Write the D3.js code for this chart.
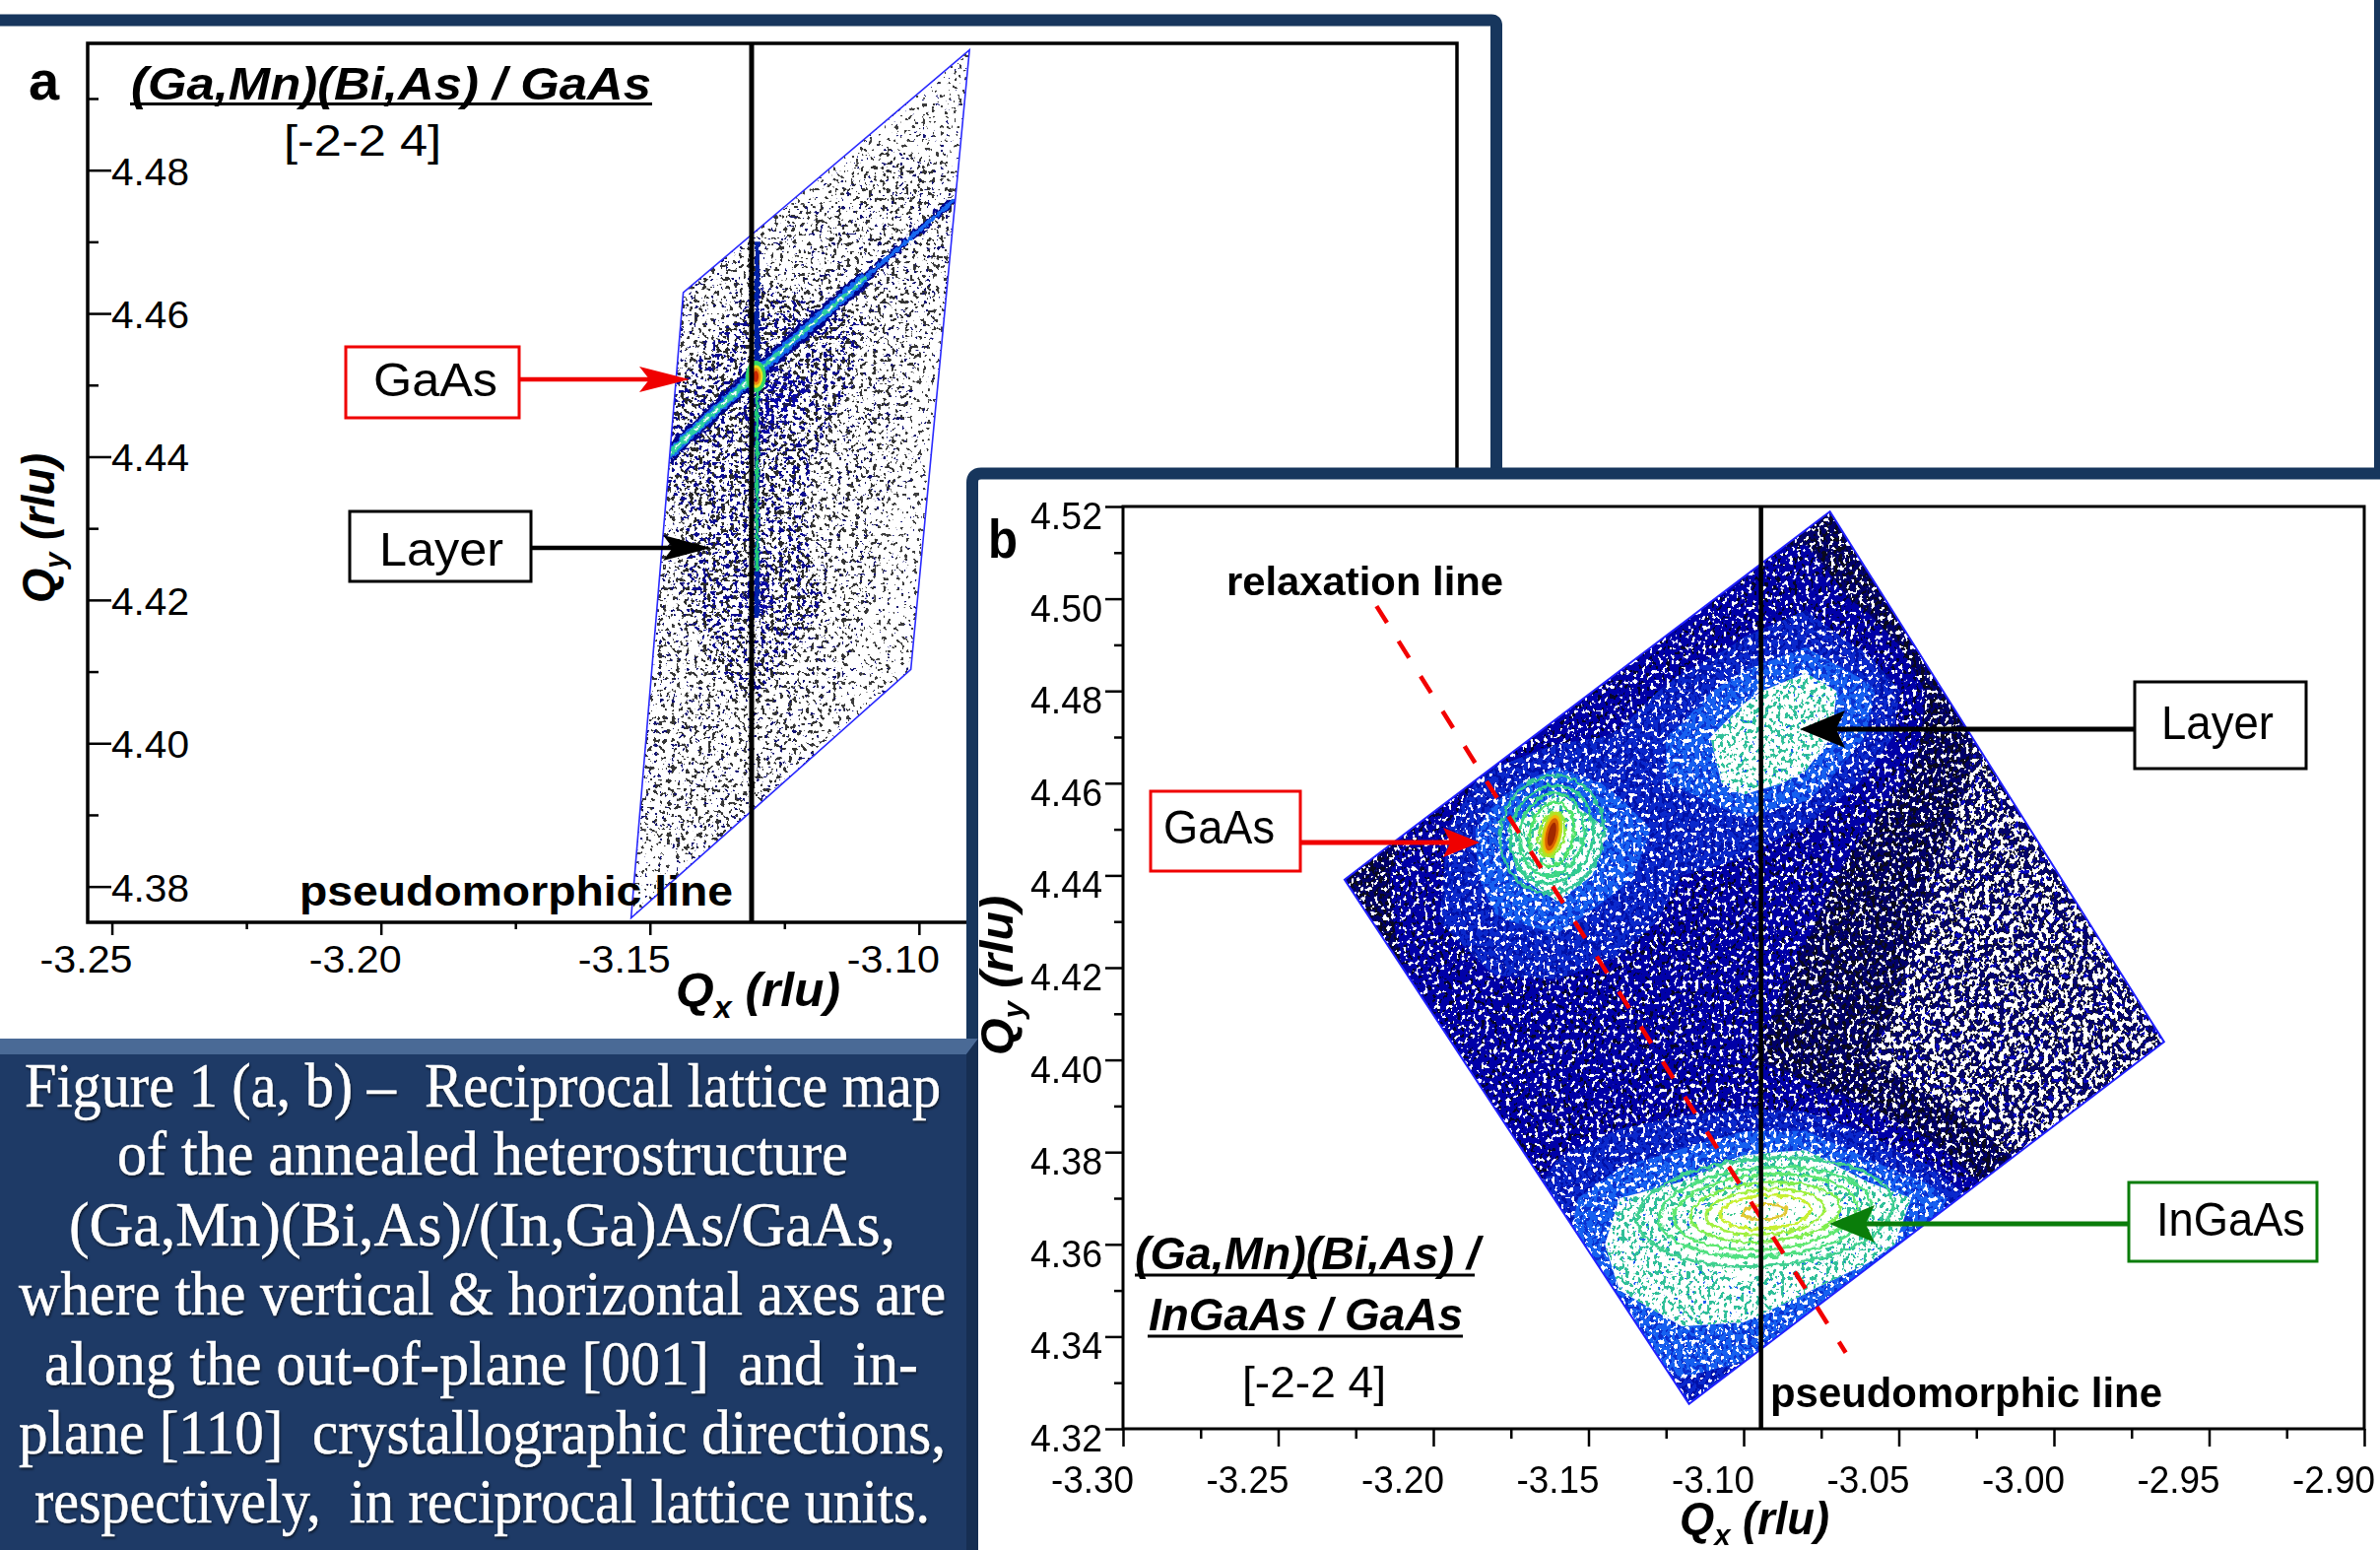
<!DOCTYPE html>
<html>
<head>
<meta charset="utf-8">
<style>
html, body { margin: 0; padding: 0; background: #fff; }
svg { display: block; }
text { font-family: "Liberation Sans", Arial, sans-serif; fill: #000; }
.axis path, .axis line { stroke: #000; }
.caption text { font-family: "Liberation Serif", serif; fill: #fff; stroke: #fff; stroke-width: .5; white-space: pre; filter: drop-shadow(1px 2px 1px rgba(0,0,0,.55)); }
</style>
</head>
<body>
<svg id="fig" width="2416" height="1573"></svg>
<script src="https://d3js.org/d3.v7.min.js"></script>
<script>
// panel a: ticks
var aXTicks = [-3.25, -3.20, -3.15, -3.10];
var aXMinor = [-3.225, -3.175, -3.125, -3.075];
var aYTicks = [4.38, 4.40, 4.42, 4.44, 4.46, 4.48];
var aYMinor = [4.39, 4.41, 4.43, 4.45, 4.47, 4.49];
// panel a: scan outline, pseudomorphic line, streaks, peak
var aOutline = [[-3.0906, 4.4968], [-3.1015, 4.4103], [-3.1535, 4.3756], [-3.1438, 4.4629]];
var aPseudoQx = -3.1311;
var aDiagStreak = [[-3.1470, 4.4400], [-3.1305, 4.4515], [-3.1100, 4.4650], [-3.0935, 4.4758]];
var aVertStreakQx = -3.1301;
var aVertStreakQy = [4.470, 4.4175];
var aPeak = [-3.1303, 4.4512];
var aPeakRx = [.0019, .0013, .0009, .0005];
var aPeakRy = [.0022, .0016, .0012, .0008];
// panel a: speck density estimated by eye on a coarse grid (0 sparse .. 3 dense)
var aGridQx = [-3.16, -3.15, -3.14, -3.13, -3.12, -3.11, -3.10, -3.09];
var aGridQy = [4.50, 4.49, 4.48, 4.47, 4.46, 4.45, 4.44, 4.43, 4.42, 4.41, 4.40, 4.39, 4.38, 4.37];
var aDensity = [
  [.5, .5, .5, .5, .5, .5, .6, .6],
  [.5, .5, .5, .5, .5, .6, .6, .6],
  [.5, .5, .5, .6, .6, .8, .8, .7],
  [.5, .6, .6, 1.0, .9, 1.0, 1.2, .7],
  [.6, .7, 1.0, 1.8, 1.6, 1.5, .9, .6],
  [.8, 1.2, 1.9, 2.8, 2.4, 1.2, .7, .5],
  [1.0, 1.5, 2.0, 2.4, 1.5, 1.0, .6, .5],
  [1.0, 1.3, 1.6, 2.2, 1.4, .8, .6, .5],
  [1.0, 1.2, 1.7, 2.7, 1.7, .8, .5, .4],
  [1.0, 1.2, 1.4, 1.8, 1.0, .6, .5, .4],
  [.9, 1.0, 1.1, 1.1, .8, .5, .5, .4],
  [.7, .8, .9, .9, .6, .5, .4, .4],
  [.6, .6, .7, .7, .5, .4, .4, .4],
  [.5, .5, .5, .5, .4, .4, .4, .4]
];

// panel b: ticks
var bXTicks = [-3.30, -3.25, -3.20, -3.15, -3.10, -3.05, -3.00, -2.95, -2.90];
var bXMinor = [-3.275, -3.225, -3.175, -3.125, -3.075, -3.025, -2.975, -2.925];
var bYTicks = [4.32, 4.34, 4.36, 4.38, 4.40, 4.42, 4.44, 4.46, 4.48, 4.50, 4.52];
var bYMinor = [4.33, 4.35, 4.37, 4.39, 4.41, 4.43, 4.45, 4.47, 4.49, 4.51];
var bOutline = [[-3.0722, 4.5189], [-2.9645, 4.4039], [-3.1176, 4.3254], [-3.2286, 4.4391]];
var bPseudoQx = -3.0944;
var bRelaxLine = [[-3.2183, 4.4984], [-3.0671, 4.3365]];
// panel b: intensity level estimated by eye on a coarse grid (0 black speckle .. 6 peak)
var bGridQx = [-3.24, -3.22, -3.20, -3.18, -3.16, -3.14, -3.12, -3.10, -3.08, -3.06, -3.04, -3.02, -3.00, -2.98, -2.96];
var bGridQy = [4.52, 4.51, 4.50, 4.49, 4.48, 4.47, 4.46, 4.45, 4.44, 4.43, 4.42, 4.41, 4.40, 4.39, 4.38, 4.37, 4.36, 4.35, 4.34, 4.33, 4.32];
var bLevels = [
  [.6, .6, .6, .6, .6, .6, .8, 1.0, 1.0, .7, .3, 0, 0, 0, 0],
  [.6, .6, .6, .6, .6, .7, 1.0, 1.5, 1.6, .8, .3, 0, 0, 0, 0],
  [.6, .6, .6, .6, .8, 1.0, 1.5, 2.0, 2.2, 1.2, .4, .1, 0, 0, 0],
  [.6, .6, .6, .8, 1.0, 1.5, 2.0, 2.6, 3.4, 2.2, .8, .2, 0, 0, 0],
  [.6, .6, .7, 1.0, 1.5, 2.0, 2.8, 4.2, 5.2, 3.8, 1.3, .3, 0, 0, 0],
  [.6, .7, 1.0, 1.6, 2.2, 2.6, 3.8, 5.3, 5.3, 3.4, 1.2, .2, 0, 0, 0],
  [.6, .8, 1.5, 3.0, 4.2, 3.2, 3.6, 5.0, 4.2, 2.2, 1.0, .2, 0, 0, 0],
  [.5, 1.0, 2.0, 4.2, 5.8, 4.2, 2.8, 3.0, 2.4, 1.5, .7, .1, 0, 0, 0],
  [.5, 1.2, 2.2, 4.0, 5.4, 3.8, 2.5, 2.2, 1.8, 1.2, .5, .1, 0, 0, 0],
  [.5, 1.0, 2.4, 3.4, 3.8, 2.8, 2.3, 2.0, 1.6, 1.0, .4, .1, 0, 0, 0],
  [.5, 1.0, 2.0, 2.6, 2.6, 2.4, 2.2, 1.9, 1.4, .8, .3, 0, 0, 0, 0],
  [.5, 1.0, 1.6, 2.0, 2.2, 2.2, 2.1, 1.8, 1.2, .7, .2, 0, 0, 0, 0],
  [.5, .8, 1.4, 1.6, 2.0, 2.1, 2.0, 1.6, 1.0, .5, .2, 0, 0, 0, 0],
  [.5, .8, 1.2, 1.5, 1.8, 2.0, 2.2, 2.4, 2.2, 1.5, .6, .2, 0, 0, 0],
  [.5, .8, 1.2, 1.8, 2.4, 3.0, 3.6, 4.4, 4.6, 3.2, 1.8, .6, .2, 0, 0],
  [.5, .8, 1.2, 1.8, 3.0, 4.5, 5.0, 5.8, 5.8, 5.2, 4.2, 1.6, .4, 0, 0],
  [.5, .8, 1.2, 2.2, 3.2, 4.9, 5.6, 5.9, 5.8, 5.2, 3.6, 1.5, .4, 0, 0],
  [.5, .8, 1.2, 2.2, 3.0, 4.5, 5.2, 5.4, 4.6, 3.5, 2.6, 1.5, .4, 0, 0],
  [.5, .8, 1.2, 2.0, 2.6, 3.6, 4.3, 4.1, 3.2, 2.6, 2.0, 1.0, .4, 0, 0],
  [.5, .8, 1.2, 2.0, 2.4, 3.0, 3.4, 3.0, 2.6, 2.0, 1.5, 1.0, .4, 0, 0],
  [.5, .8, 1.2, 2.0, 2.4, 3.0, 3.4, 3.0, 2.6, 2.0, 1.5, 1.0, .4, 0, 0]
];
// panel b: contour rings, outer to inner
var gaasCentre = [-3.1618, 4.4489];
var gaasRingRx = [.0165, .0133, .0102, .0070, .0040];
var gaasRingRy = [.0128, .0107, .0090, .0070, .0049];
var gaasCoreRx = [.0032, .0026, .0020, .0012];
var gaasCoreRy = [.0050, .0043, .0036, .0026];
var ingaasCentre = [-3.0930, 4.3670];
var ingaasRingRx = [.0413, .0343, .0295, .0241, .0191, .0146, .0070];
var ingaasRingRy = [.0117, .0096, .0081, .0064, .0049, .0036, .0016];

var captionLines = [
  "Figure 1 (a, b) \u2013  Reciprocal lattice map",
  "of the annealed heterostructure",
  "(Ga,Mn)(Bi,As)/(In,Ga)As/GaAs,",
  "where the vertical & horizontal axes are",
  "along the out-of-plane [001]  and  in-",
  "plane [110]  crystallographic directions,",
  "respectively,  in reciprocal lattice units."
];

var navy = "#17365d";
var svg = d3.select("#fig");
var defs = svg.append("defs");

// speckle texture only: feTurbulence is a fixed visual grain, no value is drawn from it
function speckFilter(id, freq, seed, layers, box) {
  var f = defs.append("filter").attr("id", id)
    .attr("filterUnits", "userSpaceOnUse")
    .attr("x", box[0]).attr("y", box[1]).attr("width", box[2]).attr("height", box[3])
    .attr("color-interpolation-filters", "sRGB");
  f.append("feTurbulence").attr("type", "fractalNoise").attr("baseFrequency", freq)
    .attr("numOctaves", 2).attr("seed", seed).attr("result", "n");
  layers.forEach(function(l, i) {
    var c = d3.rgb(l.color), k = 40;
    var row = [0, 0, 0, 0, k * -l.t];
    row[l.ch] = k;
    f.append("feColorMatrix").attr("in", "n").attr("type", "matrix")
      .attr("values", [0, 0, 0, 0, c.r / 255, 0, 0, 0, 0, c.g / 255, 0, 0, 0, 0, c.b / 255].concat(row).join(" "))
      .attr("result", "m" + i);
    f.append("feComposite").attr("in", "m" + i).attr("in2", "SourceAlpha")
      .attr("operator", "in").attr("result", "c" + i);
  });
  var m = f.append("feMerge");
  m.append("feMergeNode").attr("in", "SourceGraphic");
  layers.forEach(function(l, i) { m.append("feMergeNode").attr("in", "c" + i); });
}

function roughFilter(id, freq, scale) {
  var f = defs.append("filter").attr("id", id)
    .attr("x", "-20%").attr("y", "-20%").attr("width", "140%").attr("height", "140%");
  f.append("feTurbulence").attr("type", "fractalNoise").attr("baseFrequency", freq)
    .attr("numOctaves", 2).attr("seed", 5).attr("result", "n");
  f.append("feDisplacementMap").attr("in", "SourceGraphic").attr("in2", "n")
    .attr("scale", scale).attr("xChannelSelector", "R").attr("yChannelSelector", "G");
}

function bandPath(gridQx, gridQy, x, y) {
  var dx = gridQx[1] - gridQx[0], dy = gridQy[1] - gridQy[0];
  return d3.geoPath(d3.geoTransform({
    point: function(cx, cy) {
      this.stream.point(x(gridQx[0] + (cx - .5) * dx), y(gridQy[0] + (cy - .5) * dy));
    }
  }));
}

function label(parent, str, px, py, size, width, opt) {
  opt = opt || {};
  var t = parent.append("text").attr("x", px).attr("y", py)
    .attr("font-size", size).text(str);
  if (width) t.attr("textLength", width).attr("lengthAdjust", "spacingAndGlyphs");
  if (opt.bold) t.attr("font-weight", "bold");
  if (opt.italic) t.attr("font-style", "italic");
  return t;
}

function axisTitle(parent, sub, transform, size, width) {
  var t = parent.append("text").attr("transform", transform)
    .attr("font-size", size).attr("font-weight", "bold").attr("font-style", "italic");
  t.append("tspan").text("Q");
  t.append("tspan").attr("font-size", size * .65).attr("dy", size * .24).text(sub);
  t.append("tspan").attr("dy", -size * .24).text(" (rlu)");
  if (width) t.attr("textLength", width).attr("lengthAdjust", "spacingAndGlyphs");
}

function callout(parent, box, color, str, textX, textY, textW, fontSize, tip, tail, arrowY, headLen, headH, lineW) {
  parent.append("rect").attr("x", box[0]).attr("y", box[1]).attr("width", box[2] - box[0]).attr("height", box[3] - box[1])
    .attr("fill", "#fff").attr("stroke", color).attr("stroke-width", 3);
  label(parent, str, textX, textY, fontSize, textW);
  var dir = tip > tail ? 1 : -1;
  parent.append("line").attr("x1", tail).attr("x2", tip - dir * headLen * .5).attr("y1", arrowY).attr("y2", arrowY)
    .attr("stroke", color).attr("stroke-width", lineW);
  var back = tip - dir * headLen, notch = tip - dir * headLen * .8;
  parent.append("path").attr("fill", color)
    .attr("d", "M" + tip + "," + arrowY + "L" + back + "," + (arrowY - headH) + "L" + notch + "," + arrowY + "L" + back + "," + (arrowY + headH) + "Z");
}

function ticksAxis(group, axisFn, scale, ticks, size) {
  group.call(axisFn(scale).tickValues(ticks).tickSize(size).tickFormat(function() { return ""; }));
  group.select(".domain").remove();
  group.selectAll("line").attr("stroke-width", 2.5);
  group.selectAll("text").remove();
}

/***** panel a *****/
var aLeft = 89, aRight = 1479, aTop = 44, aBottom = 936;
var ax = d3.scaleLinear().domain([-3.2545, -3.00]).range([aLeft, aRight]);
var ay = d3.scaleLinear().domain([4.375, 4.4977]).range([aBottom, aTop]);
var pa = svg.append("g");

// top and right rule of frame a
pa.append("path").attr("fill", "none").attr("stroke", navy).attr("stroke-width", 12)
  .attr("d", "M0,20.5H1514Q1519,20.5 1519,26V480");

var aPoly = aOutline.map(function(d) { return [ax(d[0]), ay(d[1])]; });
defs.append("clipPath").attr("id", "aClip").append("polygon").attr("points", aPoly.join(" "));
var aBox = [620, 30, 400, 920];
var aFreq = "0.22";
speckFilter("aS0", aFreq, 3, [{ch: 0, t: .645, color: "#3c3c3c"}, {ch: 1, t: .74, color: "#101070"}], aBox);
speckFilter("aS1", aFreq, 3, [{ch: 0, t: .605, color: "#343434"}, {ch: 1, t: .69, color: "#101070"}], aBox);
speckFilter("aS2", aFreq, 3, [{ch: 0, t: .56, color: "#2a2a2a"}, {ch: 1, t: .60, color: "#0a0a90"}], aBox);
speckFilter("aS3", aFreq, 3, [{ch: 0, t: .53, color: "#1a1a4a"}, {ch: 1, t: .53, color: "#0808a8"}], aBox);
var aMap = pa.append("g").attr("clip-path", "url(#aClip)");
aMap.append("polygon").attr("points", aPoly.join(" ")).attr("fill", "#fff").attr("filter", "url(#aS0)");
var aPath = bandPath(aGridQx, aGridQy, ax, ay);
var aBands = d3.contours().size([aGridQx.length, aGridQy.length]).thresholds([.75, 1.5, 2.4])(aDensity.flat());
aMap.selectAll("path.band").data(aBands).enter().append("path").attr("class", "band")
  .attr("d", aPath).attr("fill", "#fff")
  .attr("filter", function(d, i) { return "url(#aS" + (i + 1) + ")"; });

// the two sharp streaks of the GaAs peak
roughFilter("rough3", "0.2", 9);
roughFilter("rough2", "0.2", 5);
var aLine = d3.line().x(function(d) { return ax(d[0]); }).y(function(d) { return ay(d[1]); });
var halo = aMap.append("g").attr("filter", "url(#rough3)").attr("fill", "none");
halo.append("path").attr("d", aLine(aDiagStreak.slice(0, 3))).attr("stroke", "#000088").attr("stroke-width", 16);
halo.append("path").attr("d", aLine(aDiagStreak.slice(2))).attr("stroke", "#000088").attr("stroke-width", 8).attr("stroke-dasharray", "26 5");
var streaks = aMap.append("g").attr("filter", "url(#rough2)").attr("fill", "none");
streaks.append("path").attr("d", aLine(aDiagStreak.slice(0, 3))).attr("stroke", "#1468f0").attr("stroke-width", 10);
streaks.append("path").attr("d", aLine(aDiagStreak.slice(2))).attr("stroke", "#1468f0").attr("stroke-width", 4);
streaks.append("path").attr("d", aLine(aDiagStreak.slice(0, 2))).attr("stroke", "#2ed0a0").attr("stroke-width", 6);
streaks.append("path").attr("d", aLine(aDiagStreak.slice(1, 3))).attr("stroke", "#2ed0a0").attr("stroke-width", 4);
streaks.append("path").attr("d", aLine(aDiagStreak.slice(0, 3))).attr("stroke", "#f2fffa").attr("stroke-width", 2).attr("stroke-dasharray", "7 6");
var vSeg = aVertStreakQy.map(function(q) { return [aVertStreakQx, q]; });
streaks.append("path").attr("d", aLine(vSeg)).attr("stroke", "#0020a8").attr("stroke-width", 5);
streaks.append("path").attr("d", aLine([[aVertStreakQx, aPeak[1]], [aVertStreakQx, 4.424]])).attr("stroke", "#22c878").attr("stroke-width", 3.5);
["#30d868", "#e8e020", "#f08810", "#c82800"].forEach(function(c, i) {
  aMap.append("ellipse").attr("cx", ax(aPeak[0])).attr("cy", ay(aPeak[1]))
    .attr("rx", ax(aPeak[0] + aPeakRx[i]) - ax(aPeak[0]))
    .attr("ry", ay(aPeak[1]) - ay(aPeak[1] + aPeakRy[i])).attr("fill", c);
});
pa.append("polygon").attr("points", aPoly.join(" ")).attr("fill", "none").attr("stroke", "#2a2aff").attr("stroke-width", 1.6);

// frame and ticks of a
pa.append("path").attr("fill", "none").attr("stroke", "#000").attr("stroke-width", 3.5)
  .attr("d", "M" + aRight + "," + aBottom + "V" + aTop + "H" + aLeft + "V" + aBottom + "H1000");
ticksAxis(pa.append("g").attr("class", "axis").attr("transform", "translate(0," + aBottom + ")"), d3.axisBottom, ax, aXTicks, 13);
ticksAxis(pa.append("g").attr("class", "axis").attr("transform", "translate(0," + aBottom + ")"), d3.axisBottom, ax, aXMinor, 7);
ticksAxis(pa.append("g").attr("class", "axis").attr("transform", "translate(" + aLeft + ",0)"), d3.axisLeft, ay, aYTicks, -24);
ticksAxis(pa.append("g").attr("class", "axis").attr("transform", "translate(" + aLeft + ",0)"), d3.axisLeft, ay, aYMinor, -11);
aXTicks.forEach(function(d) {
  label(pa, d.toFixed(2), ax(d) - 73, 987, 38, 94);
});
aYTicks.forEach(function(d) {
  label(pa, d.toFixed(2), 113, ay(d) + 15, 38, 79);
});
pa.append("line").attr("x1", ax(aPseudoQx)).attr("x2", ax(aPseudoQx)).attr("y1", aTop).attr("y2", aBottom)
  .attr("stroke", "#000").attr("stroke-width", 5);

label(pa, "a", 29, 101, 56, null, {bold: true});
label(pa, "(Ga,Mn)(Bi,As) / GaAs", 133, 101, 46, 528, {bold: true, italic: true});
pa.append("line").attr("x1", 132).attr("x2", 662).attr("y1", 105.5).attr("y2", 105.5).attr("stroke", "#000").attr("stroke-width", 3);
label(pa, "[-2-2 4]", 288, 158, 44, 160);
label(pa, "pseudomorphic line", 304, 919, 42, 440, {bold: true});
axisTitle(pa, "y", "translate(55,612) rotate(-90)", 46, 152);
axisTitle(pa, "x", "translate(686,1021)", 48, 167);
callout(pa, [351, 352, 527, 424], "#f00000", "GaAs", 379, 402, 126, 48, 700, 528, 385, 51, 13, 4.5);
callout(pa, [355, 519, 539, 590], "#000", "Layer", 385, 574, 126, 48, 722, 539, 556, 49, 13, 4.5);

/***** panel b frame sits over panel a *****/
svg.append("rect").attr("x", 2410).attr("y", 0).attr("width", 6).attr("height", 480).attr("fill", navy);
svg.append("path").attr("fill", "#fff").attr("stroke", navy).attr("stroke-width", 12)
  .attr("d", "M987,1573V490Q987,480.5 996,480.5H2430V1590H987");

/***** panel b *****/
var bLeft = 1140, bRight = 2400, bTop = 514, bBottom = 1450;
var bx = d3.scaleLinear().domain([-3.30, -2.90]).range([bLeft, bRight]);
var by = d3.scaleLinear().domain([4.32, 4.52]).range([bBottom, bTop]);
var pb = svg.append("g");

var bPoly = bOutline.map(function(d) { return [bx(d[0]), by(d[1])]; });
defs.append("clipPath").attr("id", "bClip").append("polygon").attr("points", bPoly.join(" "));
var bBox = [1340, 500, 880, 950];
var bFreq = "0.24 0.2";
speckFilter("bS0", "0.2 0.17", 9, [{ch: 0, t: .475, color: "#141414"}, {ch: 0, t: .515, color: "#04046a"}, {ch: 1, t: .66, color: "#0808c0"}], bBox);
speckFilter("bS1", bFreq, 9, [{ch: 0, t: .53, color: "#0a0a1e"}, {ch: 1, t: .60, color: "#ffffff"}], bBox);
speckFilter("bS2", bFreq, 9, [{ch: 0, t: .60, color: "#05052c"}, {ch: 1, t: .615, color: "#ffffff"}], bBox);
speckFilter("bS3", bFreq, 9, [{ch: 2, t: .53, color: "#0010a8"}, {ch: 1, t: .615, color: "#ffffff"}], bBox);
speckFilter("bS4", bFreq, 9, [{ch: 2, t: .55, color: "#0a30d0"}, {ch: 1, t: .59, color: "#ffffff"}], bBox);
speckFilter("bS5", bFreq, 9, [{ch: 0, t: .56, color: "#2fbf98"}, {ch: 1, t: .72, color: "#1860f0"}], bBox);
speckFilter("bS6", bFreq, 9, [{ch: 0, t: .66, color: "#38c88c"}], bBox);
var bFills = ["#00006a", "#0000a8", "#0a28cc", "#1660f0", "#ffffff", "#ffffff"];
var bMap = pb.append("g").attr("clip-path", "url(#bClip)");
bMap.append("polygon").attr("points", bPoly.join(" ")).attr("fill", "#fff").attr("filter", "url(#bS0)");
var bPath = bandPath(bGridQx, bGridQy, bx, by);
var bBands = d3.contours().size([bGridQx.length, bGridQy.length]).thresholds([.5, 1.5, 2.5, 3.5, 4.5, 5.5])(bLevels.flat());
bMap.selectAll("path.band").data(bBands).enter().append("path").attr("class", "band")
  .attr("d", bPath)
  .attr("fill", function(d, i) { return bFills[i]; })
  .attr("filter", function(d, i) { return "url(#bS" + (i + 1) + ")"; });

// contour rings
roughFilter("rough5", "0.16", 7);
function rings(parent, centre, rxs, rys, colors, tilt, filled, width) {
  var cx = bx(centre[0]), cy = by(centre[1]);
  parent.selectAll(null).data(rxs).enter().append("ellipse")
    .attr("cx", cx).attr("cy", cy)
    .attr("rx", function(d) { return bx(centre[0] + d) - cx; })
    .attr("ry", function(d, i) { return cy - by(centre[1] + rys[i]); })
    .attr("transform", "rotate(" + tilt + " " + cx + " " + cy + ")")
    .attr("fill", function(d, i) { return filled ? colors[i] : "none"; })
    .attr("stroke", function(d, i) { return filled ? "none" : colors[i]; })
    .attr("stroke-width", width);
}
var ringGroup = bMap.append("g").attr("filter", "url(#rough5)");
rings(ringGroup, gaasCentre, gaasRingRx, gaasRingRy, ["#30c498", "#30cc90", "#3cd884", "#50e468", "#90ec40"], 12, false, 3);
rings(ringGroup, ingaasCentre, ingaasRingRx, ingaasRingRy, ["#40d090", "#50e080", "#60e870", "#80ee50", "#a0f040", "#c8f030", "#e0c830"], -4, false, 3);
rings(bMap, gaasCentre, gaasCoreRx, gaasCoreRy, ["#b8e020", "#eeb808", "#d86000", "#a02800"], 12, true, 0);

pb.append("polygon").attr("points", bPoly.join(" ")).attr("fill", "none").attr("stroke", "#2020ff").attr("stroke-width", 2);

// relaxation line and pseudomorphic line
pb.append("line").attr("x1", bx(bRelaxLine[0][0])).attr("y1", by(bRelaxLine[0][1]))
  .attr("x2", bx(bRelaxLine[1][0])).attr("y2", by(bRelaxLine[1][1]))
  .attr("stroke", "#f20000").attr("stroke-width", 4.5).attr("stroke-dasharray", "20 22");
pb.append("line").attr("x1", bx(bPseudoQx)).attr("x2", bx(bPseudoQx)).attr("y1", bTop).attr("y2", bBottom)
  .attr("stroke", "#000").attr("stroke-width", 4.5);

// frame and ticks of b
pb.append("rect").attr("x", bLeft).attr("y", bTop).attr("width", bRight - bLeft).attr("height", bBottom - bTop)
  .attr("fill", "none").attr("stroke", "#000").attr("stroke-width", 3);
ticksAxis(pb.append("g").attr("class", "axis").attr("transform", "translate(0," + bBottom + ")"), d3.axisBottom, bx, bXTicks, 18);
ticksAxis(pb.append("g").attr("class", "axis").attr("transform", "translate(0," + bBottom + ")"), d3.axisBottom, bx, bXMinor, 10);
ticksAxis(pb.append("g").attr("class", "axis").attr("transform", "translate(" + bLeft + ",0)"), d3.axisLeft, by, bYTicks, 18);
ticksAxis(pb.append("g").attr("class", "axis").attr("transform", "translate(" + bLeft + ",0)"), d3.axisLeft, by, bYMinor, 9);
bXTicks.forEach(function(d) {
  label(pb, d.toFixed(2), bx(d) - 73, 1515, 38, 84);
});
bYTicks.forEach(function(d) {
  label(pb, d.toFixed(2), 1046, by(d) + 23, 38, 73);
});

label(pb, "b", 1003, 566, 56, 30, {bold: true});
label(pb, "relaxation line", 1245, 604, 40, 281, {bold: true});
label(pb, "pseudomorphic line", 1797, 1428, 42, 398, {bold: true});
label(pb, "(Ga,Mn)(Bi,As) /", 1152, 1288, 46, 350, {bold: true, italic: true});
pb.append("line").attr("x1", 1152).attr("x2", 1497).attr("y1", 1294).attr("y2", 1294).attr("stroke", "#000").attr("stroke-width", 3);
label(pb, "InGaAs / GaAs", 1166, 1350, 46, 319, {bold: true, italic: true});
pb.append("line").attr("x1", 1165).attr("x2", 1485).attr("y1", 1356).attr("y2", 1356).attr("stroke", "#000").attr("stroke-width", 3);
label(pb, "[-2-2 4]", 1261, 1418, 44, 146);
axisTitle(pb, "y", "translate(1028,1071) rotate(-90)", 46, 162);
axisTitle(pb, "x", "translate(1705,1557)", 46, 152);
callout(pb, [1168, 803, 1320, 884], "#f00000", "GaAs", 1181, 856, 113, 48, 1502, 1320, 855, 37, 15, 5);
callout(pb, [2167, 692, 2341, 780], "#000", "Layer", 2194, 750, 114, 48, 1827, 2167, 740, 46, 19, 5);
callout(pb, [2161, 1200, 2352, 1280], "#0a7d0a", "InGaAs", 2189, 1254, 151, 48, 1857, 2161, 1242, 46, 19, 5);

/***** caption block *****/
var cap = svg.append("g").attr("class", "caption");
cap.append("rect").attr("x", 0).attr("y", 1054).attr("width", 993).attr("height", 519).attr("fill", "#1e3a66");
cap.append("path").attr("fill", "#4a6a96").attr("d", "M0,1054H993L981,1070H0Z");
cap.append("path").attr("fill", "#162e52").attr("d", "M993,1054V1573H981V1070Z");
var capX = [25, 119, 70, 19, 45, 19, 35];
var capW = [930, 742, 839, 941, 887, 941, 909];
var capY = [1123, 1192, 1264, 1334, 1405, 1475, 1545];
captionLines.forEach(function(s, i) {
  label(cap, s, capX[i], capY[i], 64, capW[i]);
});
</script>
</body>
</html>
